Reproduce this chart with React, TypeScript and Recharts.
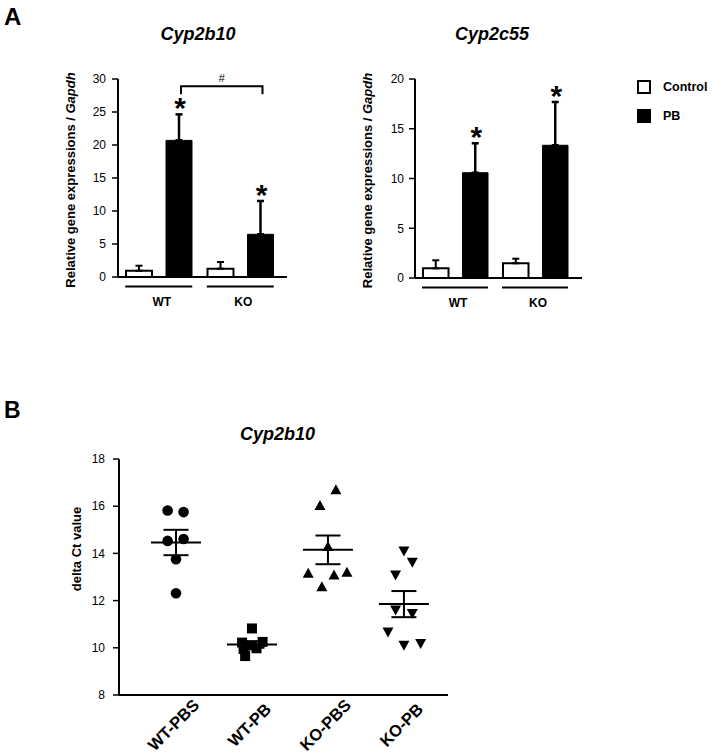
import React from 'react';
import { BarChart, Bar, XAxis, YAxis, ErrorBar, LabelList, ScatterChart, Scatter } from 'recharts';

const FONT = '"Liberation Sans", Arial, Helvetica, sans-serif';

// ---------------- Panel A data ----------------
const genotypes = ['WT', 'KO'];

const cyp2b10Control = [0.95, 1.26];
const cyp2b10ControlSd = [0.76, 1.01];
const cyp2b10Pb = [20.7, 6.47];
const cyp2b10PbSd = [3.94, 5.05];
const cyp2b10Sig = ['*', '*'];
const cyp2b10Ticks = [0, 5, 10, 15, 20, 25, 30];
const cyp2b10Bracket = { from: 'WT', to: 'KO', level: 28.9, drop: 1.2, mark: '#' };

const cyp2c55Control = [0.97, 1.48];
const cyp2c55ControlSd = [0.81, 0.46];
const cyp2c55Pb = [10.58, 13.34];
const cyp2c55PbSd = [2.96, 4.35];
const cyp2c55Sig = ['*', '*'];
const cyp2c55Ticks = [0, 5, 10, 15, 20];

const legendLabels = ['Control', 'PB'];

// ---------------- Panel B data ----------------
const bGroups = ['WT-PBS', 'WT-PB', 'KO-PBS', 'KO-PB'];
const bTicks = [8, 10, 12, 14, 16, 18];

const wtPbsValues = [15.82, 15.75, 14.53, 14.61, 13.75, 12.31];
const wtPbsJitter = [-0.11, 0.1, -0.11, 0.1, 0, 0];

const wtPbValues = [10.82, 10.22, 10.25, 10.1, 9.95, 9.98, 9.65];
const wtPbJitter = [0, -0.13, 0.14, 0, -0.11, 0.06, -0.09];

const koPbsValues = [16.03, 16.7, 14.29, 13.16, 13.08, 13.2, 12.59];
const koPbsJitter = [-0.105, 0.105, 0, -0.26, 0.08, 0.25, -0.08];

const koPbValues = [14.1, 13.62, 13.08, 11.6, 11.45, 10.67, 10.11, 10.18];
const koPbJitter = [0, 0.11, -0.11, -0.11, 0.11, -0.21, 0, 0.22];

// ---------------- helpers ----------------
type Row = {
  group: string;
  control: number;
  controlErr: number[];
  pb: number;
  pbSdVal: number;
  pbErr: number[];
  sig: string;
};

const buildRows = (ctrl: number[], ctrlSd: number[], pb: number[], pbSd: number[], sig: string[]): Row[] =>
  genotypes.map((g, i) => ({
    group: g,
    control: ctrl[i],
    controlErr: [0, ctrlSd[i]],
    pb: pb[i],
    pbSdVal: pbSd[i],
    pbErr: [0, pbSd[i]],
    sig: sig[i],
  }));

const rows2b10 = buildRows(cyp2b10Control, cyp2b10ControlSd, cyp2b10Pb, cyp2b10PbSd, cyp2b10Sig);
const rows2c55 = buildRows(cyp2c55Control, cyp2c55ControlSd, cyp2c55Pb, cyp2c55PbSd, cyp2c55Sig);

function makeSigContent(rows: Row[], bracket?: typeof cyp2b10Bracket) {
  const anchors: Record<string, { cx: number }> = {};
  return function SigContent(props: any) {
    const vb = props.viewBox || {};
    const row = rows.find((r) => r.group === props.value);
    if (!row || vb.height == null || !row.pb) return null;
    const base = vb.y + vb.height;
    const ppu = vb.height / row.pb;
    const cx = vb.x + vb.width / 2;
    const errTop = base - (row.pb + row.pbSdVal) * ppu;
    anchors[row.group] = { cx };
    let br: any = null;
    if (bracket && row.group === bracket.to && anchors[bracket.from]) {
      const a = anchors[bracket.from];
      const yl = base - bracket.level * ppu;
      const yd = base - (bracket.level - bracket.drop) * ppu;
      br = (
        <g>
          <path d={`M${a.cx + 2},${yd}V${yl}H${cx + 2}V${yd}`} fill="none" stroke="#000" strokeWidth={2} />
          <text x={(a.cx + cx) / 2 + 2} y={yl - 4.5} textAnchor="middle" fontSize={11} fill="#000" fontFamily={FONT}>
            {bracket.mark}
          </text>
        </g>
      );
    }
    return (
      <g>
        <text x={cx + 1} y={errTop + 4} textAnchor="middle" fontSize={30} fontWeight="bold" fill="#000" fontFamily={FONT}>
          {row.sig}
        </text>
        {br}
      </g>
    );
  };
}

const sig2b10 = makeSigContent(rows2b10, cyp2b10Bracket);
const sig2c55 = makeSigContent(rows2c55);

const yLabelA = (props: any) => {
  const vb = props.viewBox;
  const x = vb.x + vb.width - 43.5;
  const y = vb.y + vb.height / 2 + 2;
  return (
    <text x={x} y={y} transform={`rotate(-90 ${x} ${y})`} textAnchor="middle" fontSize={13} fontWeight="bold" fill="#000" fontFamily={FONT}>
      {'Relative gene expressions / '}
      <tspan fontStyle="italic">Gapdh</tspan>
    </text>
  );
};

const yLabelB = (props: any) => {
  const vb = props.viewBox;
  const x = vb.x + vb.width - 38;
  const y = vb.y + 90;
  return (
    <text x={x} y={y} transform={`rotate(-90 ${x} ${y})`} textAnchor="middle" fontSize={13} fontWeight="bold" fill="#000" fontFamily={FONT}>
      delta Ct value
    </text>
  );
};

const makeGroupTick = (half: number) => (props: any) => {
  const { x, y, payload } = props;
  return (
    <g>
      <line x1={x - half} x2={x + half} y1={y + 9.5} y2={y + 9.5} stroke="#000" strokeWidth={2} />
      <text x={x + 3} y={y + 28.5} textAnchor="middle" fontSize={12} fontWeight="bold" fill="#000" fontFamily={FONT}>
        {payload.value}
      </text>
    </g>
  );
};

const RotTick = (props: any) => {
  const { x, y, payload } = props;
  const label = bGroups[Math.round(payload.value) - 1];
  const tx = x + 1.5;
  const ty = y + 34;
  return (
    <text x={tx} y={ty} transform={`rotate(-45 ${tx} ${ty})`} textAnchor="middle" fontSize={16.5} fontWeight="bold" fill="#000" fontFamily={FONT}>
      {label}
    </text>
  );
};

const CircleShape = (p: any) => <circle cx={p.cx} cy={p.cy} r={5.3} fill="#000" />;
const SquareShape = (p: any) => <rect x={p.cx - 5} y={p.cy - 5} width={10} height={10} fill="#000" />;
const TriUpShape = (p: any) => (
  <path d={`M${p.cx},${p.cy - 5.5}L${p.cx + 5.5},${p.cy + 4.5}L${p.cx - 5.5},${p.cy + 4.5}Z`} fill="#000" />
);
const TriDownShape = (p: any) => (
  <path d={`M${p.cx},${p.cy + 5.5}L${p.cx + 5.5},${p.cy - 4.5}L${p.cx - 5.5},${p.cy - 4.5}Z`} fill="#000" />
);
const MeanShape = (p: any) => (
  <line x1={p.cx - 25} x2={p.cx + 25} y1={p.cy} y2={p.cy} stroke="#000" strokeWidth={2} />
);

const toPts = (vals: number[], jit: number[], pos: number) => vals.map((v, i) => ({ x: pos + jit[i], y: v }));
const stats = (vals: number[], pos: number) => {
  const n = vals.length;
  const m = vals.reduce((a, b) => a + b, 0) / n;
  const sd = Math.sqrt(vals.reduce((a, b) => a + (b - m) * (b - m), 0) / (n - 1));
  return { x: pos, y: m, sem: sd / Math.sqrt(n) };
};

const wtPbsPts = toPts(wtPbsValues, wtPbsJitter, 1);
const wtPbPts = toPts(wtPbValues, wtPbJitter, 2);
const koPbsPts = toPts(koPbsValues, koPbsJitter, 3);
const koPbPts = toPts(koPbValues, koPbJitter, 4);
const meanPts = [
  stats(wtPbsValues, 1),
  stats(wtPbValues, 2),
  stats(koPbsValues, 3),
  stats(koPbValues, 4),
];

const axisLine = { stroke: '#000', strokeWidth: 2 };
const tickLine = { stroke: '#000', strokeWidth: 1.5 };
const tickStyle = { fontSize: 12, fill: '#000', fontFamily: FONT };

export default function App() {
  return (
    <div
      style={{
        position: 'absolute',
        left: 0,
        top: 0,
        width: 712,
        height: 756,
        background: '#fff',
        fontFamily: FONT,
        overflow: 'hidden',
      }}
    >
      {/* Panel A left: Cyp2b10 */}
      <div style={{ position: 'absolute', left: 0, top: 0 }}>
        <BarChart width={300} height={330} data={rows2b10} margin={{ top: 79, right: 13, bottom: 0, left: 0 }} barSize={26} barGap={14}>
          <XAxis
            dataKey="group"
            height={53}
            axisLine={axisLine}
            tickLine={false}
            tickSize={0}
            tickMargin={0}
            interval={0}
            padding={{ left: 0, right: 6 }}
            tick={makeGroupTick(33.5)}
          />
          <YAxis
            width={118}
            domain={[0, 30]}
            ticks={cyp2b10Ticks}
            interval={0}
            axisLine={axisLine}
            tickLine={tickLine}
            tickSize={6}
            tickMargin={6}
            tick={tickStyle}
            label={yLabelA}
          />
          <Bar dataKey="control" fill="#fff" stroke="#000" strokeWidth={2} isAnimationActive={false}>
            <ErrorBar dataKey="controlErr" direction="y" width={3.5} stroke="#000" strokeWidth={2} />
          </Bar>
          <Bar dataKey="pb" fill="#000" stroke="#000" strokeWidth={1} isAnimationActive={false}>
            <ErrorBar dataKey="pbErr" direction="y" width={3.5} stroke="#000" strokeWidth={2.5} />
            <LabelList dataKey="group" content={sig2b10} />
          </Bar>
        </BarChart>
      </div>

      {/* Panel A right: Cyp2c55 */}
      <div style={{ position: 'absolute', left: 300, top: 0 }}>
        <BarChart width={300} height={330} data={rows2c55} margin={{ top: 79, right: 18, bottom: 0, left: 0 }} barSize={25.5} barGap={14}>
          <XAxis
            dataKey="group"
            height={52}
            axisLine={axisLine}
            tickLine={false}
            tickSize={0}
            tickMargin={0}
            interval={0}
            padding={{ left: 0, right: 7 }}
            tick={makeGroupTick(33)}
          />
          <YAxis
            width={115}
            domain={[0, 20]}
            ticks={cyp2c55Ticks}
            interval={0}
            axisLine={axisLine}
            tickLine={tickLine}
            tickSize={6}
            tickMargin={5}
            tick={tickStyle}
            label={yLabelA}
          />
          <Bar dataKey="control" fill="#fff" stroke="#000" strokeWidth={2} isAnimationActive={false}>
            <ErrorBar dataKey="controlErr" direction="y" width={3.5} stroke="#000" strokeWidth={2} />
          </Bar>
          <Bar dataKey="pb" fill="#000" stroke="#000" strokeWidth={1} isAnimationActive={false}>
            <ErrorBar dataKey="pbErr" direction="y" width={3.5} stroke="#000" strokeWidth={2.5} />
            <LabelList dataKey="group" content={sig2c55} />
          </Bar>
        </BarChart>
      </div>

      {/* Panel B: Cyp2b10 delta Ct */}
      <div style={{ position: 'absolute', left: 0, top: 360 }}>
        <ScatterChart width={470} height={396} margin={{ top: 99, right: 22, bottom: 0, left: 0 }}>
          <XAxis
            type="number"
            dataKey="x"
            domain={[0.25, 4.58]}
            ticks={[1, 2, 3, 4]}
            interval={0}
            allowDataOverflow
            height={61}
            axisLine={axisLine}
            tickLine={false}
            tickSize={0}
            tickMargin={0}
            tick={RotTick}
          />
          <YAxis
            type="number"
            dataKey="y"
            width={119}
            domain={[8, 18]}
            ticks={bTicks}
            interval={0}
            allowDataOverflow
            axisLine={axisLine}
            tickLine={tickLine}
            tickSize={6}
            tickMargin={8}
            tick={tickStyle}
            label={yLabelB}
          />
          <Scatter data={wtPbsPts} shape={CircleShape} isAnimationActive={false} />
          <Scatter data={wtPbPts} shape={SquareShape} isAnimationActive={false} />
          <Scatter data={koPbsPts} shape={TriUpShape} isAnimationActive={false} />
          <Scatter data={koPbPts} shape={TriDownShape} isAnimationActive={false} />
          <Scatter data={meanPts} shape={MeanShape} isAnimationActive={false}>
            <ErrorBar dataKey="sem" direction="y" width={12.5} stroke="#000" strokeWidth={2} />
          </Scatter>
        </ScatterChart>
      </div>

      {/* Titles, panel letters and legend */}
      <svg width={712} height={756} style={{ position: 'absolute', left: 0, top: 0, pointerEvents: 'none' }}>
        <text x={4} y={25} fontSize={24} fontWeight="bold" fill="#000" fontFamily={FONT}>A</text>
        <text x={4} y={418} fontSize={23} fontWeight="bold" fill="#000" fontFamily={FONT}>B</text>
        <text x={198} y={40} textAnchor="middle" fontSize={18} fontWeight="bold" fontStyle="italic" fill="#000" fontFamily={FONT}>Cyp2b10</text>
        <text x={492} y={40} textAnchor="middle" fontSize={18} fontWeight="bold" fontStyle="italic" fill="#000" fontFamily={FONT}>Cyp2c55</text>
        <text x={277.5} y={440} textAnchor="middle" fontSize={18} fontWeight="bold" fontStyle="italic" fill="#000" fontFamily={FONT}>Cyp2b10</text>
        <rect x={638} y={81} width={12} height={12} fill="#fff" stroke="#000" strokeWidth={2} />
        <rect x={637} y={109} width={14} height={14} fill="#000" />
        <text x={663} y={91} fontSize={12.5} fontWeight="bold" fill="#000" fontFamily={FONT}>{legendLabels[0]}</text>
        <text x={663} y={120} fontSize={12.5} fontWeight="bold" fill="#000" fontFamily={FONT}>{legendLabels[1]}</text>
      </svg>
    </div>
  );
}
